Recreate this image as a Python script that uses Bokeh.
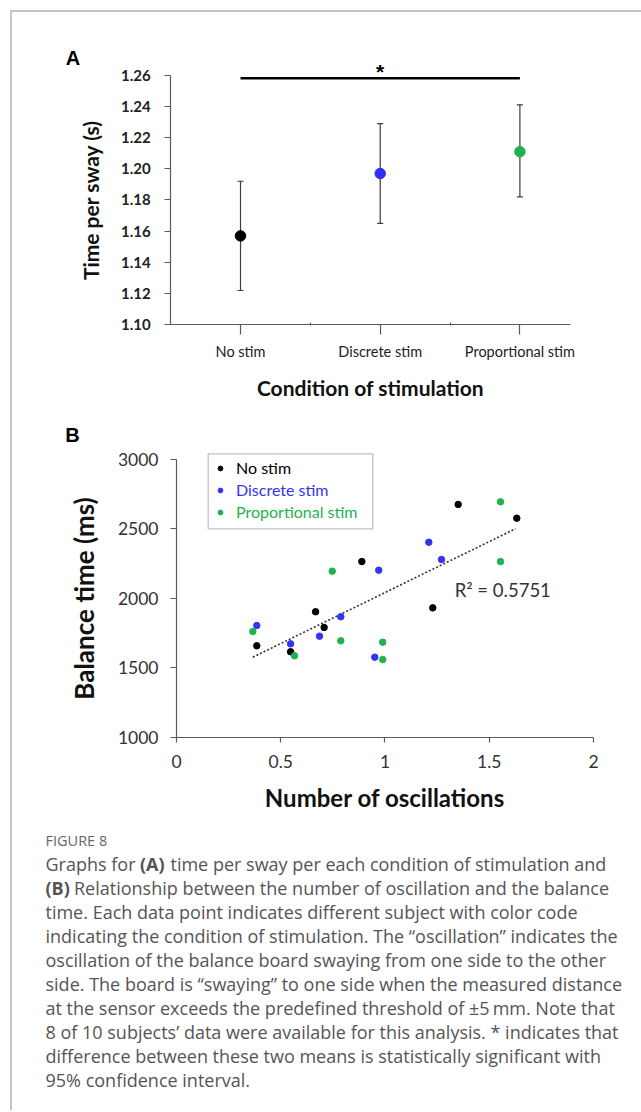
from bokeh.plotting import figure
from bokeh.layouts import column
from bokeh.models import (Range1d, FixedTicker, NumeralTickFormatter, Whisker, TeeHead,
                          ColumnDataSource, Label, Legend, LegendItem, BoxAnnotation)
from bokeh.core.properties import value
from bokeh.embed import file_html
from bokeh.resources import INLINE

# ---------------- Panel A data ----------------
conditions = ["No stim", "Discrete stim", "Proportional stim"]
cond_pos = [1, 2, 3]
cond_colors = ["#000000", "#2f2ff5", "#1db24f"]
mean_time = [1.157, 1.197, 1.211]
ci_low = [1.122, 1.165, 1.182]
ci_high = [1.192, 1.229, 1.241]
a_yticks = [1.10, 1.12, 1.14, 1.16, 1.18, 1.20, 1.22, 1.24, 1.26]
a_minor = [1.5, 2.5]
a_xspan = [0.5, 3.36]
sig_pair = [1, 3]
sig_level = 1.258

# ---------------- Panel B data ----------------
nostim_osc = [0.385, 0.547, 0.667, 0.708, 0.889, 1.229, 1.351, 1.632]
nostim_bal = [1659, 1616, 1904, 1791, 2265, 1932, 2676, 2577]
discrete_osc = [0.385, 0.547, 0.686, 0.788, 0.970, 0.951, 1.210, 1.271]
discrete_bal = [1805, 1673, 1728, 1868, 2203, 1577, 2404, 2280]
prop_osc = [0.366, 0.566, 0.747, 0.788, 0.989, 0.989, 1.554, 1.554]
prop_bal = [1762, 1587, 2196, 1695, 1685, 1560, 2695, 2265]
trend_osc = [0.366, 1.626]
trend_bal = [1577, 2501]
r_squared = "R\u00b2 = 0.5751"
b_xticks = [0, 0.5, 1, 1.5, 2]
b_yticks = [1000, 1500, 2000, 2500, 3000]
b_series = ["No stim", "Discrete stim", "Proportional stim"]
b_colors = ["#000000", "#3434f2", "#1fb24f"]

# ---------------- Caption text ----------------
caption_title = "FIGURE 8"
caption_line1 = ["Graphs for", "(A)", "time per sway per each condition of stimulation and"]
caption_line2 = ["(B)", "Relationship between the number of oscillation and the balance"]
caption_rest = [
    "time. Each data point indicates different subject with color code",
    "indicating the condition of stimulation. The \u201coscillation\u201d indicates the",
    "oscillation of the balance board swaying from one side to the other",
    "side. The board is \u201cswaying\u201d to one side when the measured distance",
    "at the sensor exceeds the predefined threshold of \u00b15\u2009mm. Note that",
    "8 of 10 subjects\u2019 data were available for this analysis. * indicates that",
    "difference between these two means is statistically significant with",
    "95% confidence interval.",
]

FONT = "Lato"
CAPFONT = "Open Sans"
AXC = "#5a5a5a"
W = 641


def style_axis(ax, tick_out, label_size, label_bold, standoff, title, title_size, title_standoff,
               label_color="#222222"):
    ax.axis_line_color = AXC
    ax.axis_line_width = 1.2
    ax.major_tick_line_color = AXC
    ax.major_tick_line_width = 1.2
    ax.major_tick_in = 0
    ax.major_tick_out = tick_out
    ax.minor_tick_line_color = None
    ax.major_label_text_font = FONT
    ax.major_label_text_font_size = label_size
    if label_bold:
        ax.major_label_text_font_style = "bold"
    ax.major_label_text_color = label_color
    ax.major_label_standoff = standoff
    ax.axis_label = title
    ax.axis_label_text_font = FONT
    ax.axis_label_text_font_style = "bold"
    ax.axis_label_text_font_size = title_size
    ax.axis_label_text_color = "#111111"
    ax.axis_label_standoff = title_standoff


# ================= Panel A =================
pA = figure(width=W, height=412, x_range=Range1d(-0.7180, 3.8704),
            y_range=Range1d(1.04378, 1.30788),
            output_backend="svg", toolbar_location=None, min_border=0,
            background_fill_color=None, border_fill_color=None, outline_line_color=None)
pA.grid.visible = False

xa = pA.xaxis[0]
xa.fixed_location = a_yticks[0]
xa.bounds = tuple(a_xspan)
xa.ticker = FixedTicker(ticks=cond_pos, minor_ticks=a_minor)
xa.major_label_overrides = {p: c for p, c in zip(cond_pos, conditions)}
style_axis(xa, 10, "14.5px", False, 8, "Condition of stimulation", "21px", 12)
xa.minor_tick_line_color = AXC
xa.minor_tick_in = 2
xa.minor_tick_out = 1

ya = pA.yaxis[0]
ya.fixed_location = a_xspan[0]
ya.bounds = (a_yticks[0], a_yticks[-1])
ya.ticker = FixedTicker(ticks=a_yticks)
ya.formatter = NumeralTickFormatter(format="0.00")
style_axis(ya, 6, "15px", True, 14, "Time per sway (s)", "21px", 15)

srcA = ColumnDataSource(dict(x=cond_pos, y=mean_time, lo=ci_low, hi=ci_high, c=cond_colors))
wh = Whisker(base="x", upper="hi", lower="lo", source=srcA, dimension="height",
             line_color="#3c3c3c", line_width=1.2, level="underlay",
             upper_head=TeeHead(size=6, line_color="#3c3c3c", line_width=1.2),
             lower_head=TeeHead(size=6, line_color="#3c3c3c", line_width=1.2))
pA.add_layout(wh)
pA.scatter("x", "y", source=srcA, size=10.5, color="c")

pA.segment(x0=[sig_pair[0]], y0=[sig_level], x1=[sig_pair[1]], y1=[sig_level],
           line_color="black", line_width=2.5)
pA.add_layout(Label(x=(sig_pair[0] + sig_pair[1]) / 2, y=1.2624, text="*",
                    text_font="Liberation Sans", text_font_style="bold", text_font_size="21px",
                    text_align="center", text_baseline="middle", text_color="black"))
pA.add_layout(Label(x=-0.199, y=1.271, text="A", text_font="Liberation Sans",
                    text_font_style="bold", text_font_size="20px", text_align="center",
                    text_baseline="middle", text_color="black"))

# ================= Panel B =================
pB = figure(width=W, height=410, x_range=Range1d(-0.8441, 2.2302),
            y_range=Range1d(387.8, 3337.4),
            output_backend="svg", toolbar_location=None, min_border=0,
            background_fill_color=None, border_fill_color=None, outline_line_color=None)
pB.grid.visible = False

xb = pB.xaxis[0]
xb.fixed_location = b_yticks[0]
xb.bounds = (b_xticks[0], b_xticks[-1])
xb.ticker = FixedTicker(ticks=b_xticks)
xb.formatter = NumeralTickFormatter(format="0.[0]")
style_axis(xb, 5, "17.5px", False, 13, "Number of oscillations", "24px", 11, "#333333")

yb = pB.yaxis[0]
yb.fixed_location = b_xticks[0]
yb.bounds = (b_yticks[0], b_yticks[-1])
yb.ticker = FixedTicker(ticks=b_yticks)
style_axis(yb, 6, "17.5px", False, 12, "Balance time (ms)", "26px", 15, "#333333")

pB.line(trend_osc, trend_bal, line_dash="2 2", line_width=1.6, line_color="#333333")

rends = []
for xs, ys, col in [(nostim_osc, nostim_bal, b_colors[0]),
                    (discrete_osc, discrete_bal, b_colors[1]),
                    (prop_osc, prop_bal, b_colors[2])]:
    rends.append(pB.scatter(xs, ys, size=6.5, color=col))

legend_bottoms = [344.5, 322.5, 300.5]
for r, lab, col, vy in zip(rends, b_series, b_colors, legend_bottoms):
    lg = Legend(items=[LegendItem(label=lab, renderers=[r])], location=(214, vy),
                orientation="vertical", padding=0, margin=0, spacing=0,
                glyph_width=12, glyph_height=20, label_height=20, label_standoff=10,
                label_text_font=FONT, label_text_font_size="16px", label_text_color=col,
                border_line_color=None, background_fill_alpha=0)
    pB.add_layout(lg)

pB.add_layout(BoxAnnotation(left=0.152, right=0.9415, bottom=2500.7, top=3040,
                            fill_alpha=0, line_color="#333333", line_width=1.3, level="overlay"))
pB.add_layout(Label(x=1.335, y=2064, text=r_squared, text_font=FONT, text_font_size="18.5px",
                    text_color="#333333", text_baseline="middle", text_align="left"))
pB.add_layout(Label(x=-0.4988, y=3172, text="B", text_font="Liberation Sans",
                    text_font_style="bold", text_font_size="20px", text_align="center",
                    text_baseline="middle", text_color="black"))

# ================= Caption =================
pC = figure(width=W, height=288, x_range=Range1d(0, W), y_range=Range1d(288, 0),
            output_backend="svg", toolbar_location=None, x_axis_location=None,
            y_axis_location=None, min_border=0,
            background_fill_color=None, border_fill_color=None, outline_line_color=None)
pC.grid.visible = False

CAPC = "#555555"
line_y = [41.5 + 24 * i for i in range(10)]
pC.text(x=[45], y=[18], text=[caption_title], text_font=value(CAPFONT), text_font_size="14.5px",
        text_color="#666666", text_baseline="middle")
reg_x = [45, 170, 73.5] + [45] * len(caption_rest)
reg_y = [line_y[0], line_y[0], line_y[1]] + line_y[2:]
reg_t = [caption_line1[0], caption_line1[2], caption_line2[1]] + caption_rest
pC.text(x=reg_x, y=reg_y, text=reg_t, text_font=value(CAPFONT), text_font_size="18px",
        text_color=CAPC, text_baseline="middle")
pC.text(x=[139.5, 45], y=[line_y[0], line_y[1]], text=[caption_line1[1], caption_line2[0]],
        text_font=value(CAPFONT), text_font_size="18px", text_font_style="bold",
        text_color=CAPC, text_baseline="middle")

layout = column(pA, pB, pC, spacing=0,
                styles={"box-shadow": "inset 10px 10px 0 0 #ffffff, inset 12px 12px 0 0 #c4c4c4"})

open("out.html", "w").write(file_html(layout, INLINE))
